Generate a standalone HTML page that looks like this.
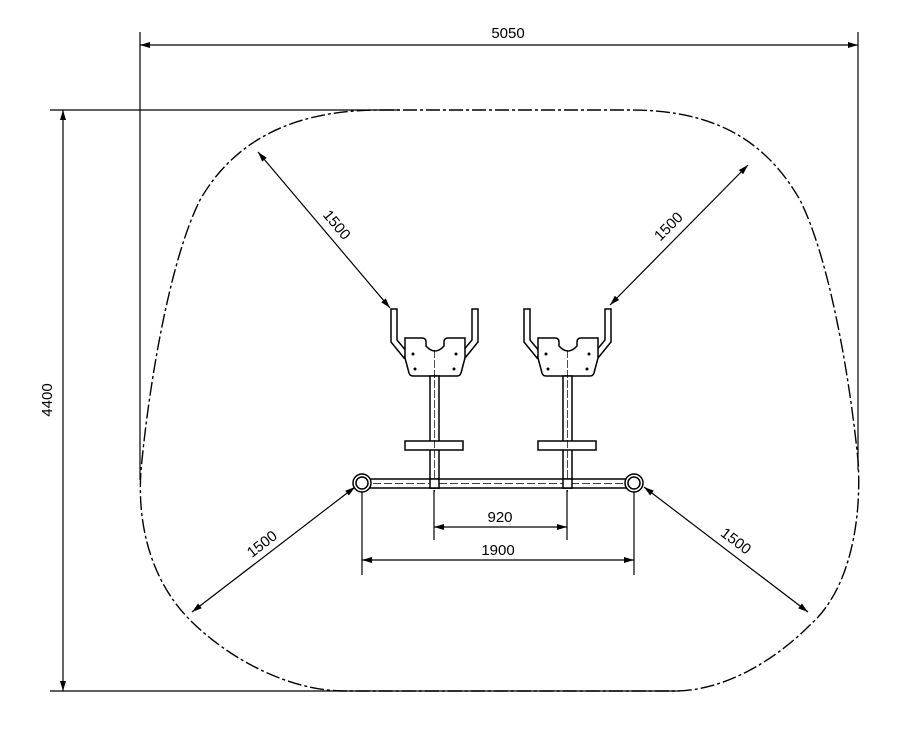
<!DOCTYPE html><html><head><style>body{margin:0;background:#fff}svg{display:block}text{font-family:"Liberation Sans",sans-serif;font-size:15px;fill:#000}</style></head><body>
<svg width="919" height="732" viewBox="0 0 919 732" xmlns="http://www.w3.org/2000/svg">
<defs><marker id="a" viewBox="0 0 10 6" refX="10" refY="3" markerWidth="12" markerHeight="6" orient="auto-start-reverse" markerUnits="userSpaceOnUse"><path d="M0,0L10,3L0,6z" fill="#000"/></marker></defs>
<g stroke="#000" fill="none" stroke-width="1.2">
<path d="M380,110 L630,110 C700,110 760,130 800,200 C830,260 850,380 858,460 C862,520 850,590 810,625 C770,665 720,691 675,691 L345,691 C290,691 230,660 190,620 C150,580 135,520 142,460 C150,380 170,260 200,200 C240,130 310,110 380,110 Z" stroke-dasharray="14,3,3,3" stroke-width="1.4"/>
<line x1="140" y1="32" x2="140" y2="480"/><line x1="858" y1="32" x2="858" y2="470"/>
<line x1="140" y1="45" x2="858" y2="45" marker-start="url(#a)" marker-end="url(#a)"/>
<line x1="50" y1="110" x2="400" y2="110"/><line x1="50" y1="691" x2="680" y2="691"/>
<line x1="63" y1="110" x2="63" y2="691" marker-start="url(#a)" marker-end="url(#a)"/>
<line x1="258" y1="152" x2="390" y2="308" marker-start="url(#a)" marker-end="url(#a)"/>
<line x1="748" y1="165" x2="610" y2="305" marker-start="url(#a)" marker-end="url(#a)"/>
<line x1="192" y1="612" x2="355" y2="487" marker-start="url(#a)" marker-end="url(#a)"/>
<line x1="644" y1="487" x2="808" y2="612" marker-start="url(#a)" marker-end="url(#a)"/>
<line x1="434" y1="490" x2="434" y2="540"/><line x1="567" y1="490" x2="567" y2="540"/>
<line x1="362" y1="492" x2="362" y2="575"/><line x1="634" y1="492" x2="634" y2="575"/>
<line x1="434" y1="527" x2="567" y2="527" marker-start="url(#a)" marker-end="url(#a)"/>
<line x1="362" y1="560" x2="634" y2="560" marker-start="url(#a)" marker-end="url(#a)"/>
</g>
<g id="s" stroke="#000" fill="#fff" stroke-width="1.5">
<path d="M391,309 L397,309 L397,340 L407,352 L404,358 L391,342 Z M472,309 L478,309 L478,342 L465,358 L462,352 L472,340 Z"/>
<path d="M405,338 h17 q4,0 4,4 v4 q9,10 18,0 v-4 q0,-4 4,-4 h17 v20 l-4,15 q-1,3 -4,3 h-44 q-3,0 -4,-3 l-4,-15 z"/>
<rect x="430" y="376" width="9" height="112"/>
<rect x="405" y="441" width="58" height="9"/>
<g fill="#000" stroke="none"><circle cx="413" cy="354" r="1.5"/><circle cx="456" cy="354" r="1.5"/><circle cx="415" cy="369" r="1.5"/><circle cx="454" cy="369" r="1.5"/></g>
<line x1="434.5" y1="350" x2="434.5" y2="492" stroke-width="0.7" stroke-dasharray="8,2"/>
</g>
<use href="#s" transform="translate(133,0)"/>
<g stroke="#000" fill="#fff" stroke-width="1.5">
<rect x="362" y="479" width="272" height="9"/>
<line x1="362" y1="483.5" x2="634" y2="483.5" stroke-width="0.7" stroke-dasharray="8,3"/>
<rect x="430" y="479" width="9" height="9"/><rect x="563" y="479" width="9" height="9"/>
<circle cx="362" cy="483" r="9"/><circle cx="362" cy="483" r="6"/>
<circle cx="634" cy="483" r="9"/><circle cx="634" cy="483" r="6"/>
</g>
<text x="508" y="38" text-anchor="middle">5050</text>
<text transform="translate(52,400) rotate(-90)" text-anchor="middle">4400</text>
<text transform="translate(333,228) rotate(50)" text-anchor="middle">1500</text>
<text transform="translate(672,230) rotate(-45)" text-anchor="middle">1500</text>
<text transform="translate(265,548) rotate(-38)" text-anchor="middle">1500</text>
<text transform="translate(733,545) rotate(37)" text-anchor="middle">1500</text>
<text x="500" y="522" text-anchor="middle">920</text>
<text x="498" y="555" text-anchor="middle">1900</text>
</svg></body></html>
